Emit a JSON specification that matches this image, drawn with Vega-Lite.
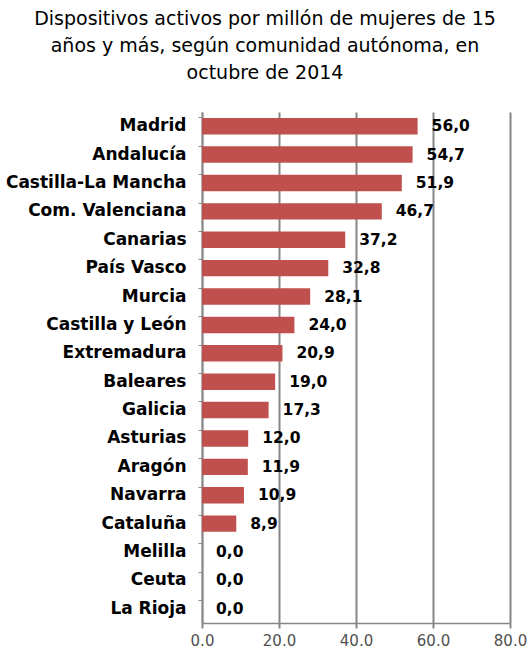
{
  "$schema": "https://vega.github.io/schema/vega-lite/v6.json",
  "autosize": {"type": "none"},
  "padding": {"left": 202, "top": 112, "right": 19, "bottom": 31},
  "width": 308,
  "height": 511,
  "background": "white",
  "title": {
    "text": ["Dispositivos activos por millón de mujeres de 15", "años y más, según comunidad autónoma, en", "octubre de 2014"],
    "anchor": "middle",
    "dx": -91,
    "offset": 29,
    "fontSize": 19,
    "lineHeight": 27,
    "font": "DejaVu Sans",
    "fontWeight": 500,
    "color": "#000000"
  },
  "config": {
    "view": {"stroke": null},
    "locale": {"number": {"decimal": ",", "thousands": ".", "grouping": [3], "currency": ["", " €"]}}
  },
  "data": {
    "values": [
      {"comunidad": "Madrid", "valor": 56.0},
      {"comunidad": "Andalucía", "valor": 54.7},
      {"comunidad": "Castilla-La Mancha", "valor": 51.9},
      {"comunidad": "Com. Valenciana", "valor": 46.7},
      {"comunidad": "Canarias", "valor": 37.2},
      {"comunidad": "País Vasco", "valor": 32.8},
      {"comunidad": "Murcia", "valor": 28.1},
      {"comunidad": "Castilla y León", "valor": 24.0},
      {"comunidad": "Extremadura", "valor": 20.9},
      {"comunidad": "Baleares", "valor": 19.0},
      {"comunidad": "Galicia", "valor": 17.3},
      {"comunidad": "Asturias", "valor": 12.0},
      {"comunidad": "Aragón", "valor": 11.9},
      {"comunidad": "Navarra", "valor": 10.9},
      {"comunidad": "Cataluña", "valor": 8.9},
      {"comunidad": "Melilla", "valor": 0.0},
      {"comunidad": "Ceuta", "valor": 0.0},
      {"comunidad": "La Rioja", "valor": 0.0}
    ]
  },
  "encoding": {
    "y": {
      "field": "comunidad",
      "type": "nominal",
      "sort": null,
      "scale": {"paddingInner": 0.42, "paddingOuter": 0.21},
      "axis": {
        "title": null,
        "bandPosition": 0,
        "domainColor": "#868686",
        "domainWidth": 1.5,
        "tickColor": "#868686",
        "tickSize": 4,
        "labelPadding": 12,
        "labelLimit": 260,
        "labelFont": "DejaVu Sans",
        "labelFontSize": 17,
        "labelFontWeight": "bold",
        "labelColor": "#000000",
        "grid": false
      }
    },
    "x": {
      "field": "valor",
      "type": "quantitative",
      "scale": {"domain": [0, 80], "nice": false},
      "axis": {
        "title": null,
        "values": [0, 20, 40, 60, 80],
        "labelExpr": "replace(datum.label, ',', '.')",
        "format": ".1f",
        "labelFlush": false,
        "grid": true,
        "gridColor": "#868686",
        "gridWidth": 2,
        "domainColor": "#868686",
        "domainWidth": 1.5,
        "tickColor": "#868686",
        "tickSize": 5,
        "tickWidth": 2,
        "labelPadding": 5,
        "labelFont": "DejaVu Sans",
        "labelFontSize": 15,
        "labelColor": "#505050"
      }
    }
  },
  "layer": [
    {"mark": {"type": "bar", "color": "#C0504D"}},
    {
      "mark": {"type": "text", "align": "left", "dx": 14, "font": "DejaVu Sans", "fontSize": 15.5, "fontWeight": "bold", "color": "#000000"},
      "encoding": {"text": {"field": "valor", "type": "quantitative", "format": ".1f"}}
    }
  ]
}
